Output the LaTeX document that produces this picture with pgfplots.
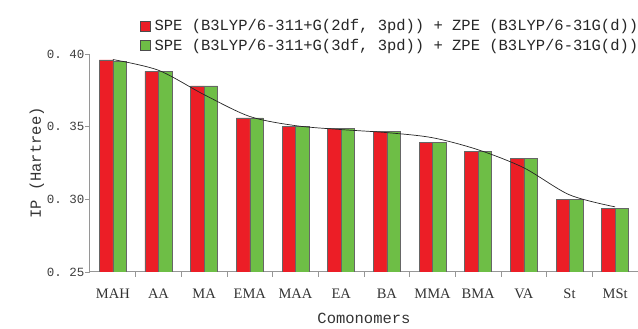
\documentclass[border=0pt]{standalone}
\usepackage{fontspec}
\setmainfont{Liberation Serif}
\setmonofont{Liberation Mono}
\usepackage{pgfplots}
\pgfplotsset{compat=1.18}
\definecolor{myred}{RGB}{236,30,38}
\definecolor{mygreen}{RGB}{110,190,70}
\definecolor{axgray}{RGB}{150,150,150}
\begin{document}
\begin{tikzpicture}
\begin{axis}[
  name=ax,
  scale only axis, width=548pt, height=218pt,
  xmin=-0.5, xmax=11.5, ymin=0.25, ymax=0.40,
  axis x line*=bottom, axis y line*=left,
  axis line style={axgray, line width=1pt, -},
  every tick/.style={axgray, line width=0.8pt},
  tick align=outside,
  major tick length=5pt,
  xtick={0.5,1.5,...,10.5}, xticklabel={\mbox{}},
  extra x ticks={0,1,2,3,4,5,6,7,8,9,10,11},
  extra x tick labels={MAH,AA,MA,EMA,MAA,EA,BA,MMA,BMA,VA,St,MSt},
  extra x tick style={major tick length=0pt, tick label style={font=\fontsize{14.5}{16}\selectfont\color{black!80}, yshift=-13pt}},
  ytick={0.25,0.30,0.35,0.40},
  yticklabels={0. 25,0. 30,0. 35,0. 40},
  y tick label style={font=\fontsize{12.5}{13}\ttfamily\color{black!75}, xshift=3pt},
  xlabel={Comonomers},
  ylabel={IP (Hartree)},
  label style={font=\fontsize{15.5}{17}\ttfamily\color{black!80}},
  xlabel style={yshift=-3pt},
  ylabel style={yshift=-4pt},
  legend style={draw=none, fill=none, at={(axis description cs:0,1)}, anchor=south west,
    xshift=47pt, yshift=-2pt, font=\fontsize{15.5}{17}\ttfamily\color{black!85},
    row sep=3pt, cells={anchor=west}},
  legend image code/.code={\draw[#1, draw=black!70] (0pt,-5pt) rectangle (10pt,5pt);},
]
\addplot[ybar, bar width=13.5pt, bar shift=-6.75pt, fill=myred, draw=black!60] coordinates {
 (0,0.396) (1,0.388) (2,0.378) (3,0.356) (4,0.350) (5,0.349)
 (6,0.347) (7,0.339) (8,0.333) (9,0.328) (10,0.300) (11,0.294)};
\addlegendentry{\hspace{2pt}SPE (B3LYP/6-311+G(2df, 3pd)) + ZPE (B3LYP/6-31G(d))}
\addplot[ybar, bar width=13.5pt, bar shift=6.75pt, fill=mygreen, draw=black!60] coordinates {
 (0,0.395) (1,0.388) (2,0.378) (3,0.356) (4,0.350) (5,0.349)
 (6,0.347) (7,0.339) (8,0.333) (9,0.328) (10,0.300) (11,0.294)};
\addlegendentry{\hspace{2pt}SPE (B3LYP/6-311+G(3df, 3pd)) + ZPE (B3LYP/6-31G(d))}
\addplot[black!85, line width=0.7pt, smooth, no marks, forget plot] coordinates {
 (0,0.3962) (1,0.3888) (2,0.3720) (3,0.3570) (4,0.3507) (5,0.3480)
 (6,0.3459) (7,0.3424) (8,0.3341) (9,0.3217) (10,0.3031) (11,0.2948)};
\end{axis}
\pgfresetboundingbox
\path[use as bounding box] (ax.south west) ++(-90pt,-57pt) rectangle ++(638pt,329pt);
\end{tikzpicture}
\end{document}
